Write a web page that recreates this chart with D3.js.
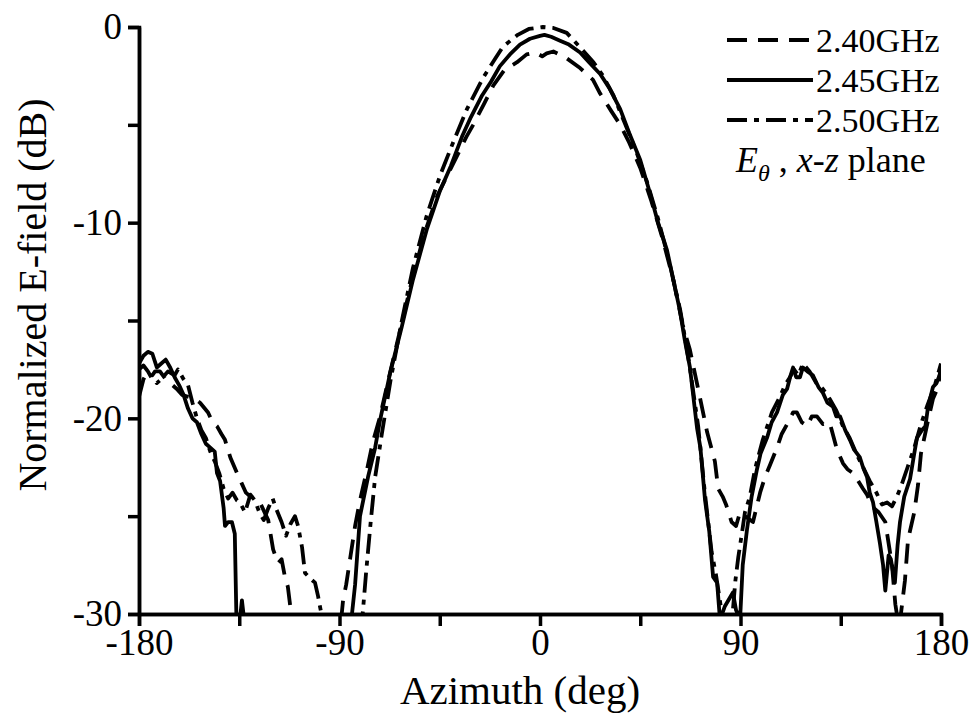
<!DOCTYPE html>
<html><head><meta charset="utf-8">
<script src="https://cdn.jsdelivr.net/npm/d3@7"></script>
<style>
body{margin:0;background:#fff;}
svg text{font-family:"Liberation Serif","Times New Roman",Times,"DejaVu Serif",serif !important;fill:#000;}
</style></head>
<body><svg id="c" width="977" height="717"></svg>
<script>
// ---- data (azimuth in deg, normalized E-field in dB) ----
const seriesNames = ["2.40GHz", "2.45GHz", "2.50GHz"];
const xTicks = [-180, -90, 0, 90, 180];
const xMinorTicks = [-135, -45, 45, 135];
const yTicks = [0, -10, -20, -30];
const yMinorTicks = [-5, -15, -25];

const ang240 = [-180,-178,-176,-174,-172.8,-170.6,-168,-165,-163,-160.7,-158,-155,-152.6,-149,-147,-145,-143,-141.4,-139,-136,-134,-132,-130,-128,-125.7,-122,-119.8,-117.6,-116,-114.5,-113.2,-111,-100,-90,-89,-88.4,-87,-85,-83,-81,-78,-75,-72,-68,-63,-58,-52,-46,-41.7,-37.3,-33,-30,-25,-21,-16,-10.3,-6,-2,1,3,6,12,18,23.8,27,32,36,40,45,50,55,60,64,67.3,71,75,78.5,80,82,83.5,86,88,89.8,92,95.6,98.8,101,103.2,106.4,108.5,110.9,113.6,115.3,117.5,120,122,124.3,127,130,133.3,136,138,140.5,142.3,145,146.8,149,152,155,158,159.5,161,162,163.8,165.2,168,169.7,171,174,176.4,178.7,180];
const val240 = [-18.9,-18.0,-17.6,-17.8,-17.6,-17.6,-18.0,-18.3,-18.5,-18.8,-18.9,-19.0,-19.2,-19.7,-20.2,-20.4,-20.8,-21.1,-22.0,-22.8,-23.3,-23.8,-24.0,-24.1,-24.3,-25.2,-26.7,-27.4,-27.2,-28.1,-28.6,-30.6,-30.6,-30.6,-30.0,-29.3,-28.5,-27.0,-25.5,-24.3,-22.8,-21.2,-20.0,-18.0,-15.6,-13.2,-10.6,-8.6,-7.6,-6.6,-5.6,-5.0,-3.9,-3.0,-2.2,-1.8,-1.4,-1.3,-1.5,-1.35,-1.25,-1.6,-2.1,-2.7,-3.4,-4.3,-5.0,-5.9,-7.2,-8.9,-10.8,-13.0,-15.2,-16.5,-18.5,-20.7,-22.2,-23.6,-24.0,-24.4,-25.3,-25.5,-24.8,-25.0,-25.3,-23.8,-23.0,-22.4,-21.5,-20.8,-20.3,-19.7,-19.7,-20.2,-20.4,-19.9,-19.9,-20.3,-20.2,-21.6,-22.3,-22.6,-22.8,-23.1,-23.6,-23.9,-24.5,-24.8,-25.3,-27.5,-29.5,-30.6,-30.0,-28.3,-26.2,-24.8,-23.4,-21.8,-20.2,-19.0,-18.4,-17.3];

const ang245 = [-180,-178,-176,-174,-172,-170,-168,-166,-164,-162,-160,-158,-156,-154,-152,-150,-148,-146,-145,-143.6,-142,-141.4,-140,-138.3,-137,-136.2,-135,-133.8,-132.5,-100,-86,-84.4,-83,-80.8,-77.2,-74,-71.8,-67.3,-62,-57,-50.7,-45,-40,-35,-31,-26,-22,-18,-13.5,-9,-4.5,0,2,5,9,13,18,22,27,31,36,40,45,49.4,53,57,60,62.8,65,67.3,70.5,72,74.1,76,77.7,79.5,80.8,83,86.6,88,89.8,91,92.9,95,97.4,99,101.9,104,106.4,109,110.9,112.5,113.6,115,116.7,118,120,122.5,125,127,129,131.5,133,134.7,137,139.1,141,143.6,145,146.8,148,149.5,151,152.6,154,155,156.5,157.5,159.3,160.5,161.6,163.5,166.1,168,169.2,171.5,173,174.2,176.4,178,180];
const val245 = [-17.2,-16.8,-16.6,-16.7,-17.4,-17.2,-17.0,-17.4,-17.9,-18.3,-18.8,-19.5,-20.0,-20.2,-20.8,-21.3,-21.5,-21.7,-22.8,-23.2,-24.6,-25.5,-25.3,-25.3,-25.9,-30.6,-30.6,-29.3,-30.6,-30.6,-30.6,-30.0,-28.5,-25.0,-23.0,-21.5,-20.1,-17.7,-15.3,-12.9,-10.3,-8.4,-7.1,-5.6,-4.6,-3.5,-2.8,-2.0,-1.4,-0.9,-0.6,-0.45,-0.4,-0.5,-0.7,-0.9,-1.3,-1.8,-2.4,-3.1,-4.2,-5.4,-6.8,-8.5,-10.0,-11.4,-13.0,-14.5,-16.0,-17.4,-20.5,-21.5,-24.2,-25.8,-28.1,-28.4,-30.3,-29.6,-28.9,-29.8,-30.3,-27.5,-25.7,-24.0,-22.6,-21.8,-21.0,-20.2,-19.7,-18.8,-18.5,-17.8,-17.4,-17.9,-17.9,-17.4,-17.6,-17.8,-18.4,-18.7,-19.2,-19.4,-19.9,-19.9,-20.6,-21.1,-21.6,-22.0,-22.5,-23.0,-23.8,-24.3,-25.3,-26.4,-27.5,-28.8,-27.0,-27.2,-28.4,-26.5,-25.3,-24.0,-23.1,-21.8,-21.0,-20.6,-20.4,-19.4,-18.4,-18.2,-17.6];

const ang250 = [-180,-178,-176,-174,-172,-170,-167,-164,-162.5,-160,-158,-156,-154,-152,-150,-148,-146,-144,-142,-140,-138,-136,-134.7,-132.4,-130,-128,-126,-124,-122,-120,-118.5,-116,-114,-112,-110,-108.6,-106.8,-105.5,-103,-101,-99.6,-98.8,-97,-81,-79.6,-78,-76,-74,-71,-67,-62,-57,-51,-44.9,-39,-32.8,-25.6,-20,-16.6,-10,-5,1.3,6,12,19.3,24,28.3,33,38,43,48,53,58,63,67,71,74,77,79,81,82.5,86,87.7,89,90.6,92,94.2,96.5,100,104.1,107.7,110,112.2,114,116,118,121,124,127,130,133,136,139,142,145,148,151,153.5,155.8,158,160.2,162,165,168,171,174,177,180];
const val250 = [-17.5,-17.3,-17.6,-18.0,-18.2,-18.0,-17.6,-17.8,-17.5,-18.0,-18.3,-19.2,-20.0,-20.6,-21.0,-21.7,-22.2,-22.8,-23.6,-24.1,-23.8,-24.2,-24.3,-24.8,-23.9,-24.2,-24.8,-25.2,-24.6,-24.1,-24.6,-25.3,-26.0,-25.4,-25.0,-25.5,-26.6,-27.9,-28.2,-28.4,-29.1,-29.6,-30.6,-30.6,-30.0,-27.8,-25.3,-23.0,-20.8,-18.0,-15.0,-12.3,-9.7,-7.6,-5.9,-4.2,-2.6,-1.6,-1.0,-0.4,-0.1,0,-0.05,-0.3,-1.2,-1.8,-2.5,-3.5,-4.9,-6.3,-7.9,-9.8,-12.0,-14.5,-17.2,-20.4,-23.8,-26.8,-28.0,-29.5,-30.6,-30.6,-28.3,-27.1,-25.9,-24.8,-24.0,-22.6,-21.1,-19.7,-18.9,-18.3,-17.9,-17.5,-17.8,-17.2,-17.6,-18.2,-18.5,-19.0,-19.6,-20.4,-21.0,-21.8,-22.5,-23.2,-23.8,-24.4,-24.3,-24.5,-24.0,-23.5,-22.5,-21.5,-20.3,-19.3,-18.4,-17.2];

// ---- chart ----
const FONT = "Liberation Serif, Times New Roman, Times, DejaVu Serif, serif";
const svg = d3.select("#c");
const x = d3.scaleLinear().domain([-180, 180]).range([139, 941]);
const y = d3.scaleLinear().domain([-30, 0]).range([614, 27]);

svg.append("defs").append("clipPath").attr("id", "clip")
  .append("rect").attr("x", x(-180)).attr("y", 0)
  .attr("width", x(180) - x(-180)).attr("height", y(-30));

const dashes = ["20,11", null, "20,7,5,7"];
const series = [
  {name: seriesNames[0], a: ang240, v: val240, dash: dashes[0]},
  {name: seriesNames[1], a: ang245, v: val245, dash: dashes[1]},
  {name: seriesNames[2], a: ang250, v: val250, dash: dashes[2]}
];
const line = d3.line().x(d => x(d[0])).y(d => y(d[1]));
const g = svg.append("g").attr("clip-path", "url(#clip)");
series.forEach(s => {
  g.append("path").datum(s.a.map((a, i) => [a, s.v[i]]))
    .attr("d", line).attr("fill", "none").attr("stroke", "#000")
    .attr("stroke-width", 3.8).attr("stroke-linejoin", "round")
    .attr("stroke-dasharray", s.dash);
});

function styleAxis(sel) {
  sel.attr("font-family", FONT);
  sel.selectAll("path.domain").attr("stroke", "#000").attr("stroke-width", 3.5);
  sel.selectAll(".tick line").attr("stroke", "#000").attr("stroke-width", 3.5);
}
const fmt = d => String(d);
// minor ticks
const xm = svg.append("g").attr("transform", `translate(0,${y(-30)})`)
  .call(d3.axisBottom(x).tickValues(xMinorTicks).tickSize(12).tickFormat(""));
styleAxis(xm);
const ym = svg.append("g").attr("transform", `translate(${x(-180)},0)`)
  .call(d3.axisLeft(y).tickValues(yMinorTicks).tickSize(11).tickFormat(""));
styleAxis(ym);

const xa = svg.append("g").attr("transform", `translate(0,${y(-30)})`)
  .call(d3.axisBottom(x).tickValues(xTicks).tickSize(12).tickSizeOuter(0).tickPadding(3).tickFormat(fmt));
styleAxis(xa);
xa.selectAll("text").attr("font-size", 37);

const ya = svg.append("g").attr("transform", `translate(${x(-180)},0)`)
  .call(d3.axisLeft(y).tickValues(yTicks).tickSize(11).tickSizeOuter(0).tickPadding(6).tickFormat(fmt));
styleAxis(ya);
ya.selectAll("text").attr("font-size", 37);

svg.append("text").attr("x", 520).attr("y", 704).attr("text-anchor", "middle")
  .attr("font-family", FONT).attr("font-size", 41).text("Azimuth (deg)");
svg.append("text").attr("transform", "translate(46,295) rotate(-90)")
  .attr("font-family", FONT).attr("text-anchor", "middle").attr("font-size", 40).text("Normalized E-field (dB)");

// legend
const lg = svg.append("g").attr("font-family", FONT);
series.forEach((s, i) => {
  const yy = 40 + i * 40;
  lg.append("line").attr("x1", 727).attr("x2", 813).attr("y1", yy).attr("y2", yy)
    .attr("stroke", "#000").attr("stroke-width", 4).attr("stroke-dasharray", s.dash);
  lg.append("text").attr("x", 816).attr("y", yy + 12).attr("font-size", 34).text(s.name);
});
const note = lg.append("text").attr("x", 736).attr("y", 172).attr("font-size", 36);
note.append("tspan").attr("font-style", "italic").text("E");
note.append("tspan").attr("font-style", "italic").attr("font-size", 24).attr("dy", 9).text("θ");
note.append("tspan").attr("dy", -9).text(" , ");
note.append("tspan").attr("font-style", "italic").text("x-z");
note.append("tspan").text(" plane");
</script></body></html>
